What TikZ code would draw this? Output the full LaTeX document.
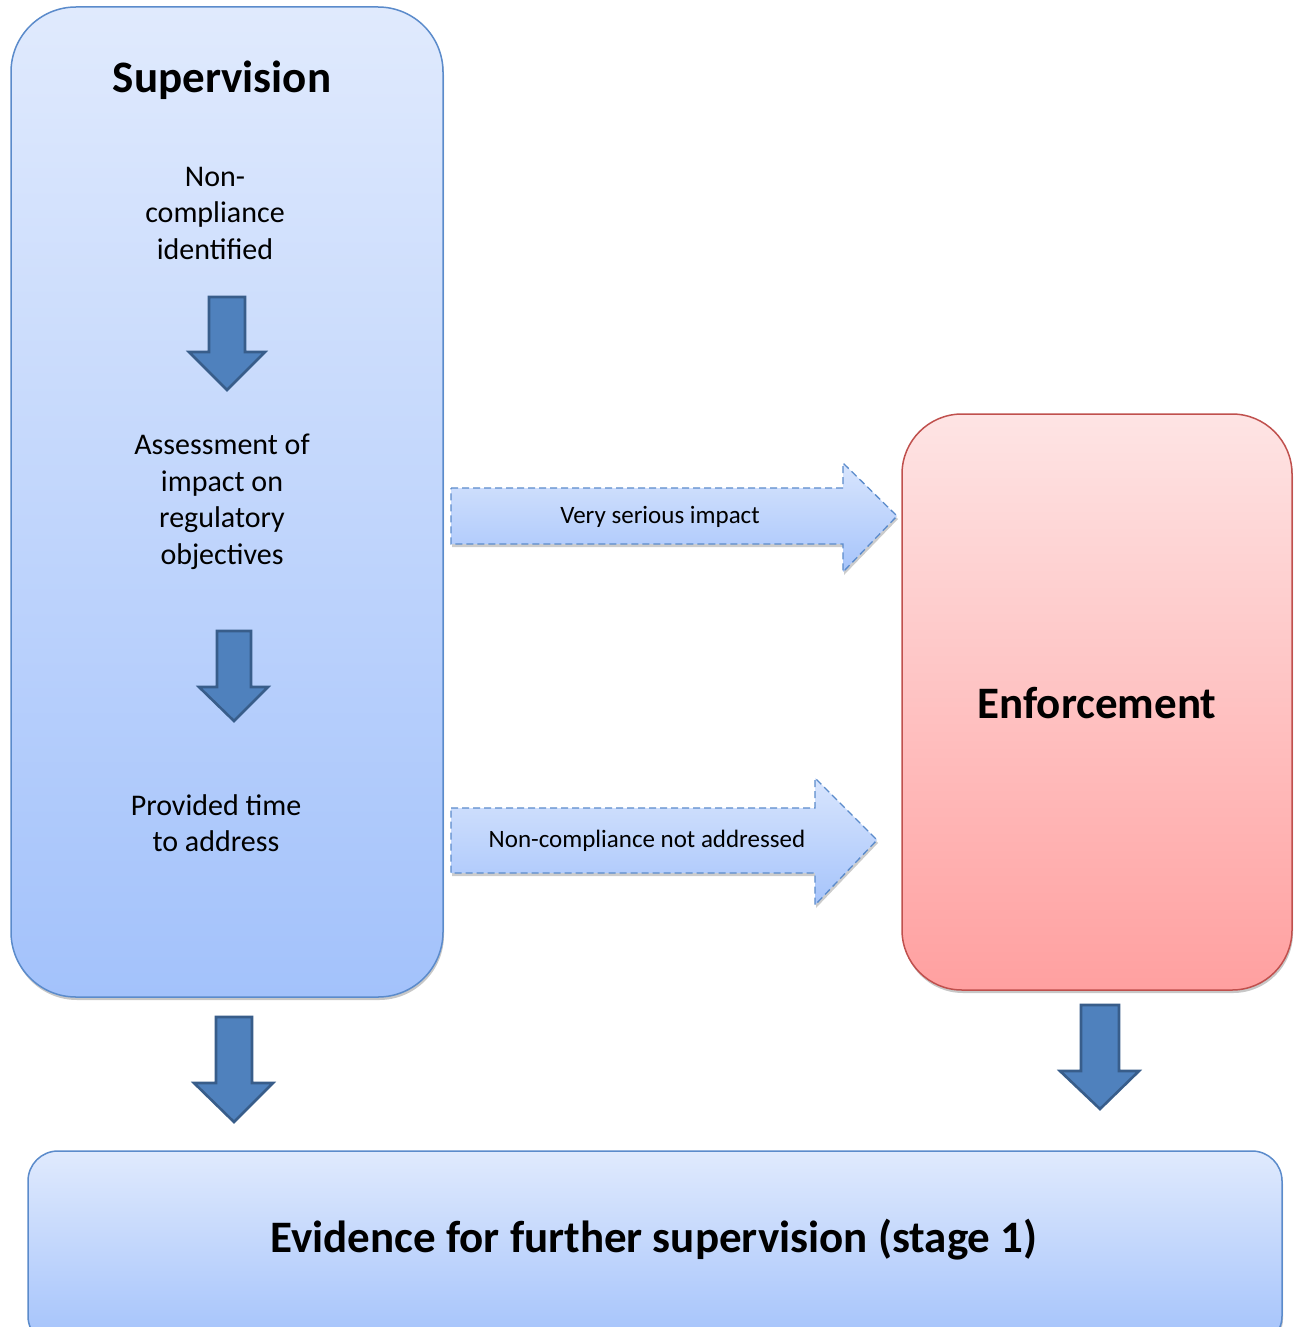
\documentclass[tikz,border=0pt]{standalone}
\usepackage{fontspec}
\setmainfont{Carlito}
\usetikzlibrary{shadows}
\definecolor{supTop}{HTML}{E0EAFD}
\definecolor{supBot}{HTML}{A3C2FB}
\definecolor{supLine}{HTML}{5B8BCB}
\definecolor{enfTop}{HTML}{FEE4E4}
\definecolor{enfBot}{HTML}{FFA0A0}
\definecolor{enfLine}{HTML}{C0504D}
\definecolor{arrFill}{HTML}{4F81BD}
\definecolor{arrLine}{HTML}{385D8A}
\definecolor{flowTop}{HTML}{D8E5FD}
\definecolor{flowBot}{HTML}{A6C4FB}
\begin{document}
\begin{tikzpicture}[x=1pt,y=-1pt,
  bigbox/.style={rectangle, inner sep=0pt, outer sep=0pt, line width=1.5pt,
    drop shadow={shadow xshift=1pt, shadow yshift=-3pt, opacity=0.22, fill=black}},
  bluebox/.style={bigbox, draw=supLine, top color=supTop, bottom color=supBot},
  redbox/.style={bigbox, draw=enfLine, top color=enfTop, bottom color=enfBot},
  downarrow/.style={fill=arrFill, draw=arrLine, line width=2.6pt, line join=miter},
  flowarrow/.style={top color=flowTop, bottom color=flowBot, draw=supLine, line width=1.3pt,
    dash pattern=on 7pt off 4pt, line join=miter,
    drop shadow={shadow xshift=1pt, shadow yshift=-3pt, opacity=0.2, fill=black}},
  title/.style={font=\bfseries\fontsize{45}{54}\selectfont, inner sep=0pt},
  body/.style={font=\fontsize{30}{36.5}\selectfont, align=center, inner sep=0pt},
  small/.style={font=\fontsize{25}{30}\selectfont, inner sep=0pt}
]
\clip (0,0) rectangle (1293,1327);
\fill[white] (0,0) rectangle (1293,1327);

% main boxes
\node[bluebox, rounded corners=65pt, minimum width=432pt, minimum height=990pt] (sup) at (227,502) {};
\node[redbox, rounded corners=60pt, minimum width=390pt, minimum height=576pt] (enf) at (1097,702) {};
\node[bluebox, rounded corners=30pt, minimum width=1254pt, minimum height=195pt] (evi) at (655,1248.5) {};

% titles
\node[title] (supT) at (222,80) {Supervision};
\node[title] (enfT) at (1097,703) {Enforcement};
\node[title] (eviT) at (654,1240) {Evidence for further supervision (stage 1)};

% body texts
\node[body] (t1) at (215,213) {Non-\\compliance\\identified};
\node[body] (t2) at (222,502) {Assessment of\\impact on\\regulatory\\objectives};
\node[body] (t3) at (216,823) {Provided time\\to address};

% down arrows
\path[downarrow] (209,297) -- (245,297) -- (245,352) -- (265,352) -- (227,390) -- (189,352) -- (209,352) -- cycle;
\path[downarrow] (217,631) -- (251,631) -- (251,687) -- (268,687) -- (234,721) -- (199,687) -- (217,687) -- cycle;
\path[downarrow] (216,1017) -- (252,1017) -- (252,1083) -- (273,1083) -- (234,1122) -- (194,1083) -- (216,1083) -- cycle;
\path[downarrow] (1081,1005) -- (1119,1005) -- (1119,1071) -- (1139,1071) -- (1100,1109) -- (1060,1071) -- (1081,1071) -- cycle;

% flow arrows
\path[flowarrow] (451,488) -- (843,488) -- (843,463) -- (897,516) -- (843,572) -- (843,544) -- (451,544) -- cycle;
\path[flowarrow] (451,808) -- (815,808) -- (815,778) -- (877,840) -- (815,905) -- (815,873) -- (451,873) -- cycle;
\node[small] (f1) at (660,517) {Very serious impact};
\node[small] (f2) at (647,841) {Non-compliance not addressed};
\end{tikzpicture}
\end{document}
